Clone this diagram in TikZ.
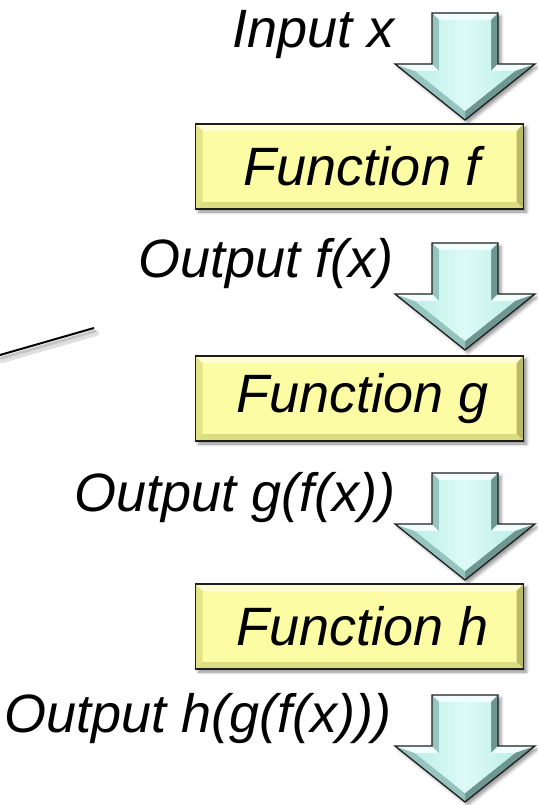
\documentclass[tikz,border=0pt]{standalone}
\usepackage{fontspec}
\setmainfont{Liberation Sans}
\usetikzlibrary{shadows.blur,calc}

\definecolor{boxface}{RGB}{252,252,165}
\definecolor{boxlight}{RGB}{255,255,214}
\definecolor{boxmid}{RGB}{228,228,135}
\definecolor{boxdark}{RGB}{186,186,102}
\definecolor{arrface}{RGB}{198,247,239}
\definecolor{arrlight}{RGB}{240,255,253}
\definecolor{arrmid}{RGB}{150,196,190}
\definecolor{arrdark}{RGB}{112,150,146}
\definecolor{edgeline}{RGB}{30,30,30}

\tikzset{
  lbl/.style={font=\fontsize{54bp}{64bp}\selectfont\itshape, inner sep=0pt, anchor=base east},
  funcbox/.style={
    minimum width=328bp, minimum height=85bp, inner sep=0pt,
    font=\fontsize{54bp}{64bp}\selectfont\itshape,
    fill=boxface, draw=edgeline, line width=1.2bp,
    blur shadow={shadow xshift=3bp, shadow yshift=-3bp, shadow blur radius=3bp, shadow opacity=45},
    path picture={
      \coordinate (bnw) at (path picture bounding box.north west);
      \coordinate (bne) at (path picture bounding box.north east);
      \coordinate (bse) at (path picture bounding box.south east);
      \coordinate (bsw) at (path picture bounding box.south west);
      \fill[boxlight] (bnw) -- (bne) -- ($(bne)+(-7,7)$) -- ($(bnw)+(7,7)$) -- cycle;
      \fill[boxmid]   (bnw) -- ($(bnw)+(7,7)$) -- ($(bsw)+(7,-7)$) -- (bsw) -- cycle;
      \fill[boxdark]  (bne) -- (bse) -- ($(bse)+(-7,-7)$) -- ($(bne)+(-7,7)$) -- cycle;
      \fill[boxmid!80!boxdark] (bsw) -- (bse) -- ($(bse)+(-7,-7)$) -- ($(bsw)+(7,-7)$) -- cycle;
    }
  },
  downarrow/.pic={
    % outer outline with its shadow
    \path[fill=arrface, blur shadow={shadow xshift=3bp, shadow yshift=-3bp, shadow blur radius=3bp, shadow opacity=40}]
      (-33,0) -- (33,0) -- (33,51) -- (70,51) -- (0,107) -- (-70,51) -- (-33,51) -- cycle;
    % bevelled facets
    \fill[arrlight] (-33,0) -- (33,0) -- (26,7) -- (-26,7) -- cycle;
    \fill[arrdark]  (33,0) -- (33,51) -- (26,58) -- (26,7) -- cycle;
    \fill[arrlight] (33,51) -- (70,51) -- (50,58) -- (26,58) -- cycle;
    \fill[arrdark]  (70,51) -- (0,107) -- (0,98) -- (50,58) -- cycle;
    \fill[arrmid]   (0,107) -- (-70,51) -- (-50,58) -- (0,98) -- cycle;
    \fill[arrlight] (-70,51) -- (-33,51) -- (-26,58) -- (-50,58) -- cycle;
    \fill[arrmid]   (-33,51) -- (-33,0) -- (-26,7) -- (-26,58) -- cycle;
    % inner face
    \shade[left color=arrface!85!arrmid, right color=arrface!85!arrmid, middle color=arrface!60!white]
      (-26,7) -- (26,7) -- (26,58) -- (50,58) -- (0,98) -- (-50,58) -- (-26,58) -- cycle;
    \draw[edgeline, line width=1.3bp, line join=miter]
      (-33,0) -- (33,0) -- (33,51) -- (70,51) -- (0,107) -- (-70,51) -- (-33,51) -- cycle;
    \coordinate (-top) at (0,0);
    \coordinate (-tip) at (0,107);
  }
}

\begin{document}
\begin{tikzpicture}[x=1bp, y=-1bp]
  \useasboundingbox (0,0) rectangle (538,805);

  % stray pen stroke on the left, with a soft shadow
  \coordinate (s1) at (0,355);
  \coordinate (s2) at (94,328);
  \draw[black!25, opacity=0.5, line width=6bp, line cap=round] ($(s1)+(2,5)$) -- ($(s2)+(2,5)$);
  \draw[black!40, opacity=0.4, line width=3bp, line cap=round] ($(s1)+(1,3)$) -- ($(s2)+(1,3)$);
  \draw[black, line width=2bp] (s1) -- (s2);

  % block arrows
  \pic (a1) at (465,13)  {downarrow};
  \pic (a2) at (465,243) {downarrow};
  \pic (a3) at (465,473) {downarrow};
  \pic (a4) at (465,695) {downarrow};

  % function boxes
  \node[funcbox] (fnf) at (359.5,166.5) {\hspace*{6bp}Function f};
  \node[funcbox] (fng) at (359.5,398.5) {\hspace*{6bp}Function g};
  \node[funcbox] (fnh) at (359.5,626.5) {\hspace*{6bp}Function h};

  % labels beside the arrows
  \node[lbl] (inx)  at (395,48)  {Input x};
  \node[lbl] (outf) at (394,277) {Output f(x)};
  \node[lbl] (outg) at (396,511) {Output g(f(x))};
  \node[lbl] (outh) at (392,732) {Output h(g(f(x)))};
\end{tikzpicture}
\end{document}
